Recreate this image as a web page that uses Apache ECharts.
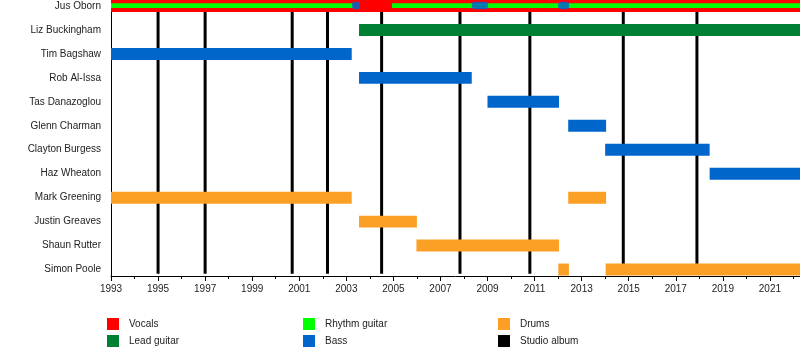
<!DOCTYPE html>
<html>
<head>
<meta charset="utf-8">
<script src="https://cdn.jsdelivr.net/npm/echarts@6/dist/echarts.min.js"></script>
<style>
  html, body { margin: 0; padding: 0; background: #fff; }
  #chart { width: 800px; height: 350px; }
</style>
</head>
<body>
<div id="chart"></div>
<script>
// Band members, top to bottom
const members = [
  'Jus Oborn', 'Liz Buckingham', 'Tim Bagshaw', 'Rob Al-Issa', 'Tas Danazoglou',
  'Glenn Charman', 'Clayton Burgess', 'Haz Wheaton', 'Mark Greening',
  'Justin Greaves', 'Shaun Rutter', 'Simon Poole'
];

const START = 1993;
const END = 2022.28;

// Tenures: [member row, from, to] in decimal years
const vocals = [[0, 1993, END]];
const leadGuitar = [[1, 2003.54, END]];
const rhythmGuitar = [[0, 1993, 2003.3], [0, 2004.94, END]];
const bass = [
  [0, 2003.24, 2003.58], [0, 2008.33, 2009.02], [0, 2012.0, 2012.47],
  [2, 1993, 2003.23], [3, 2003.54, 2008.33], [4, 2009.0, 2012.04],
  [5, 2012.43, 2014.04], [6, 2014.0, 2018.44], [7, 2018.44, END]
];
const drums = [
  [8, 1993, 2003.23], [8, 2012.43, 2014.04], [9, 2003.54, 2006.0],
  [10, 2005.98, 2012.04], [11, 2012.01, 2012.46], [11, 2014.02, END]
];

// Studio album release dates
const albums = [1995.0, 1997.0, 2000.7, 2002.2, 2004.5, 2007.83, 2010.8, 2014.77, 2017.9];

const colors = {
  'Vocals': '#ff0000',
  'Lead guitar': '#008033',
  'Rhythm guitar': '#00ff00',
  'Bass': '#0066cc',
  'Drums': '#fba024',
  'Studio album': '#000000'
};

// Rows that carry vocals show extra roles as thin stripes inside the bar
const stripeRows = new Set(vocals.map(d => d[0]));

function barRenderer(role) {
  return function (params, api) {
    const row = api.value(0);
    const p0 = api.coord([api.value(1), row]);
    const p1 = api.coord([api.value(2), row]);
    const unit = api.size([0, 1])[1];
    let h = unit * 0.5;
    let y = p0[1] - h / 2;
    let r = 0;
    let opacity = 1;
    if (role !== 'Vocals' && stripeRows.has(row)) {
      if (role === 'Bass') {
        y = p0[1] - unit * 0.18; h = unit * 0.32; r = 3; opacity = 0.85;
      } else {
        y = p0[1] - unit * 0.11; h = unit * 0.19;
      }
    }
    return {
      type: 'rect',
      shape: { x: p0[0], y: y, width: p1[0] - p0[0], height: h, r: r },
      style: { fill: colors[role], opacity: opacity }
    };
  };
}

function barSeries(role, data) {
  return {
    name: role,
    type: 'custom',
    z: 3,
    itemStyle: { color: colors[role] },
    encode: { x: [1, 2], y: 0 },
    renderItem: barRenderer(role),
    data: data,
    silent: true
  };
}

const albumSeries = {
  name: 'Studio album',
  type: 'custom',
  z: 2,
  itemStyle: { color: colors['Studio album'] },
  encode: { x: 0 },
  renderItem: function (params, api) {
    const x = api.value(0);
    const top = api.coord([x, 0]);
    const bottom = api.coord([x, members.length - 1 + 0.18]);
    return {
      type: 'line',
      shape: { x1: top[0], y1: top[1], x2: bottom[0], y2: bottom[1] },
      style: { stroke: colors['Studio album'], lineWidth: 3 }
    };
  },
  data: albums.map(v => [v]),
  silent: true
};

const textColor = '#222';
const fontFamily = 'Liberation Sans, Arial, sans-serif';

function legendColumn(left, names) {
  return {
    orient: 'vertical',
    left: left,
    top: 318,
    itemWidth: 12,
    itemHeight: 12,
    itemGap: 5,
    icon: 'rect',
    selectedMode: false,
    padding: 0,
    data: names,
    textStyle: { fontSize: 10, color: textColor, fontFamily: fontFamily, padding: [0, 0, 0, 5] }
  };
}

const chart = echarts.init(document.getElementById('chart'), null, { renderer: 'canvas' });
chart.setOption({
  animation: false,
  backgroundColor: '#fff',
  grid: { left: 111, right: 0, top: 0, bottom: 74, containLabel: false },
  xAxis: {
    type: 'value',
    min: START,
    max: END,
    interval: 2,
    splitLine: { show: false },
    axisLine: { show: true, onZero: false, lineStyle: { color: '#000', width: 1 } },
    axisTick: { show: true, length: 5, lineStyle: { color: '#000' } },
    minorTick: { show: true, splitNumber: 2, length: 3, lineStyle: { color: '#000' } },
    axisLabel: {
      fontSize: 10, color: textColor, fontFamily: fontFamily, margin: 8,
      showMaxLabel: false, formatter: v => String(v)
    }
  },
  yAxis: {
    type: 'value',
    inverse: true,
    min: -0.25,
    max: 11.27,
    splitLine: { show: false },
    axisLine: { show: true, onZero: false, lineStyle: { color: '#000', width: 1 } },
    axisTick: { show: false },
    axisLabel: {
      customValues: members.map((m, i) => i),
      formatter: v => members[Math.round(v)] || '',
      fontSize: 10, color: textColor, fontFamily: fontFamily, margin: 10
    }
  },
  legend: [
    legendColumn(107, ['Vocals', 'Lead guitar']),
    legendColumn(303, ['Rhythm guitar', 'Bass']),
    legendColumn(498, ['Drums', 'Studio album'])
  ],
  series: [
    albumSeries,
    barSeries('Vocals', vocals),
    barSeries('Lead guitar', leadGuitar),
    barSeries('Rhythm guitar', rhythmGuitar),
    barSeries('Bass', bass),
    barSeries('Drums', drums)
  ]
});
</script>
</body>
</html>
